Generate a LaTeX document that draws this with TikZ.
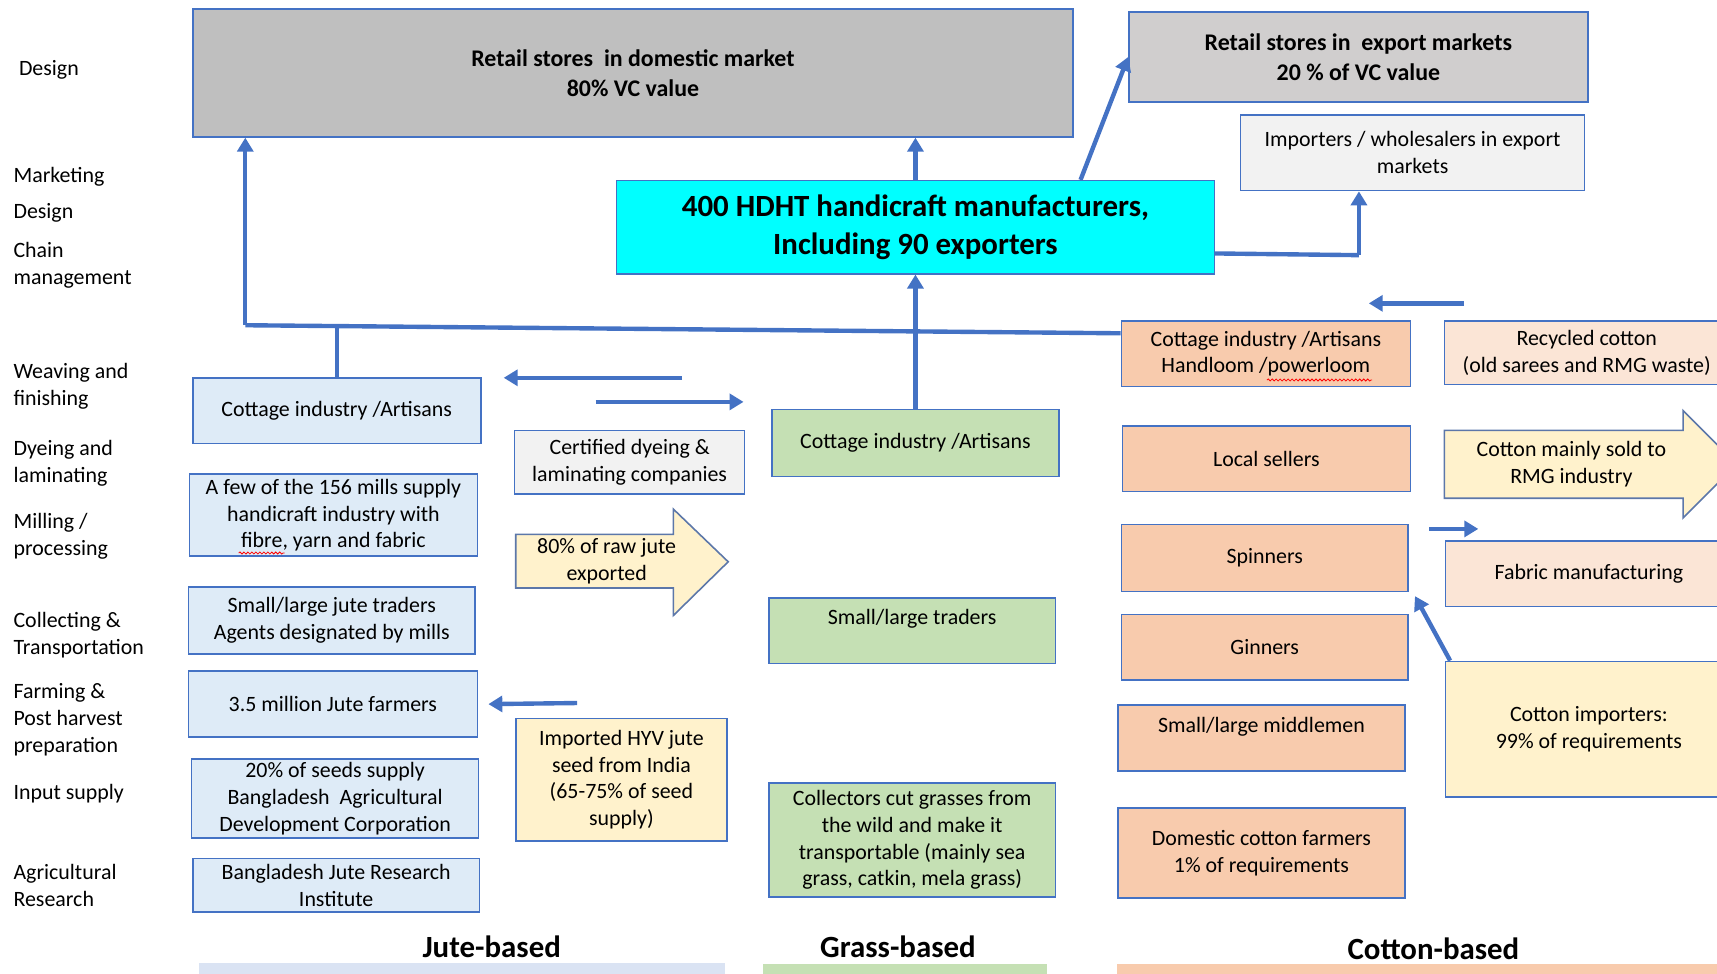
\documentclass[tikz,border=0pt]{standalone}
\usepackage{fontspec}
\setmainfont{Carlito}
\usepackage{xcolor}
\usetikzlibrary{positioning}
\usetikzlibrary{arrows.meta}
\usetikzlibrary{decorations.pathmorphing}

\definecolor{vcblue}{HTML}{4472C4}
\definecolor{domgrey}{HTML}{BFBFBF}
\definecolor{expgrey}{HTML}{D0CECE}
\definecolor{palegrey}{HTML}{F2F2F2}
\definecolor{hdhtcyan}{HTML}{00FFFF}
\definecolor{jutefill}{HTML}{DEEBF7}
\definecolor{grassfill}{HTML}{C5E0B4}
\definecolor{cottonfill}{HTML}{F8CBAD}
\definecolor{cottonpale}{HTML}{FBE5D6}
\definecolor{noteyellow}{HTML}{FFF2CC}
\definecolor{jutebar}{HTML}{DAE3F3}

\def\px{0.55pt}
\tikzset{
    wh/.style 2 args={minimum width=#1*\px, minimum height=#2*\px},
    box/.style={draw=vcblue, line width=0.8pt, rectangle, align=center, inner sep=0pt,
        font=\fontsize{11}{13.5}\selectfont},
    stage/.style={anchor=west, align=left, inner sep=0pt, font=\fontsize{11}{13.5}\selectfont},
    chain/.style={font=\bfseries\fontsize{15.5}{17}\selectfont, inner sep=0pt},
    flow/.style={draw=vcblue, line width=2.2pt},
    flowarrow/.style={flow, -{Triangle[length=7pt,width=8pt]}},
    bigarrow/.style={draw=vcblue!60!gray, line width=0.8pt, fill=noteyellow},
    spell/.style={draw=red, line width=0.4pt, decorate, decoration={snake, amplitude=0.5pt, segment length=2pt}}
}

\begin{document}
\begin{tikzpicture}[x=0.55pt,y=-0.55pt]
    \useasboundingbox (0,0) rectangle (1568,889);

    % stage labels
    \node[stage] (sdesign) at (17,64) {Design};
    \node[stage] (smarket) at (12,161) {Marketing};
    \node[stage] (sdesign2) at (12,194) {Design};
    \node[stage] (schain) at (12,242) {Chain\\management};
    \node[stage] (sweave) at (12,353) {Weaving and\\finishing};
    \node[stage] (sdye) at (12,423) {Dyeing and\\laminating};
    \node[stage] (smill) at (12,490) {Milling /\\processing};
    \node[stage] (scollect) at (12,580) {Collecting \&\\Transportation};
    \node[stage] (sfarm) at (12,657) {Farming \&\\Post harvest\\preparation};
    \node[stage] (sinput) at (12,725) {Input supply};
    \node[stage] (sresearch) at (12,809) {Agricultural\\Research};

    % markets and manufacturers
    \node[box, fill=domgrey, wh={804}{117}, font=\bfseries\fontsize{12}{15}\selectfont] (domret) at (578,66.5) {Retail stores~ in domestic market\\80\% VC value};
    \node[box, fill=expgrey, wh={419}{82}, font=\bfseries\fontsize{12}{15}\selectfont] (expret) at (1240.5,52) {Retail stores in~ export markets\\20 \% of VC value};
    \node[box, fill=palegrey, wh={314}{69}] (imp) at (1290,139.5) {Importers / wholesalers in export\\markets};
    \node[box, fill=hdhtcyan, wh={546}{85}, font=\bfseries\fontsize{15.5}{19.5}\selectfont] (hdht) at (836,207.5) {400 HDHT handicraft manufacturers,\\Including 90 exporters};

    % jute-based chain
    \node[box, fill=jutefill, wh={263}{60}] (jcot) at (307.5,375) {Cottage industry /Artisans};
    \node[box, fill=palegrey, wh={210}{58}] (dye) at (575,422) {Certified dyeing \&\\laminating companies};
    \node[box, fill=jutefill, wh={263}{75}] (mills) at (304.5,470.5) {A few of the 156 mills supply\\handicraft industry with\\fibre, yarn and fabric};
    \node[box, fill=jutefill, wh={262}{61}] (jtrad) at (303,566.5) {Small/large jute traders\\Agents designated by mills};
    \node[box, fill=jutefill, wh={264}{60}] (jfarm) at (304,643) {3.5 million Jute farmers};
    \node[box, fill=noteyellow, wh={193}{112}] (hyv) at (567.5,712) {Imported HYV jute\\seed from India\\(65-75\% of seed\\supply)};
    \node[box, fill=jutefill, wh={262}{72}] (seeds) at (306,729) {20\% of seeds supply\\Bangladesh~ Agricultural\\Development Corporation};
    \node[box, fill=jutefill, wh={262}{49}] (bjri) at (307,808.5) {Bangladesh Jute Research\\Institute};
    \draw[bigarrow] (471,488) -- (615,488) -- (615,465) -- (665,513) -- (615,562) -- (615,537) -- (471,537) -- cycle;
    \node[font=\fontsize{11}{13.5}\selectfont, align=center, inner sep=0pt] (rawjute) at (554,512.5) {80\% of raw jute\\exported};
    \draw[spell] (218,505) -- (260,505);

    % grass-based chain
    \node[box, fill=grassfill, wh={262}{61}] (gcot) at (836,404.5) {Cottage industry /Artisans};
    \node[box, fill=grassfill, wh={262}{60}] (gtrad) at (833,576) {Small/large traders\\ \mbox{}};
    \node[box, fill=grassfill, wh={262}{104}] (collect) at (833,767) {Collectors cut grasses from\\the wild and make it\\transportable (mainly sea\\grass, catkin, mela grass)};

    % cotton-based chain
    \node[box, fill=cottonfill, wh={264}{60}] (ccot) at (1156,323) {Cottage industry /Artisans\\Handloom /powerloom};
    \node[box, fill=cottonpale, wh={260}{58}] (recyc) at (1449,322) {Recycled cotton\\(old sarees and RMG waste)};
    \node[box, fill=cottonfill, wh={263}{60}] (locsell) at (1156.5,419) {Local sellers};
    \node[box, fill=cottonfill, wh={262}{61}] (spin) at (1155,509.5) {Spinners};
    \node[box, fill=cottonpale, wh={262}{60}] (fabric) at (1451,524) {Fabric manufacturing};
    \node[box, fill=cottonfill, wh={262}{60}] (ginn) at (1155,591) {Ginners};
    \node[box, fill=cottonfill, wh={262}{60}] (middle) at (1152,674) {Small/large middlemen\\ \mbox{}};
    \node[box, fill=noteyellow, wh={262}{124}] (cimp) at (1451,666) {Cotton importers:\\99\% of requirements};
    \node[box, fill=cottonfill, wh={262}{82}] (dfarm) at (1152,779) {Domestic cotton farmers\\1\% of requirements};
    \draw[bigarrow] (1319,393) -- (1537,393) -- (1537,375) -- (1586,424) -- (1537,473) -- (1537,455) -- (1319,455) -- cycle;
    \node[font=\fontsize{11}{13.5}\selectfont, align=center, inner sep=0pt] (rmg) at (1435,423.5) {Cotton mainly sold to\\RMG industry};
    \draw[spell] (1157,347) -- (1253,347);

    % flows
    \coordinate (jbend) at (224,297);
    \coordinate (ibend) at (1241,233);
    \draw[flow] (ccot.172) -- (jbend);
    \draw[flow] (jcot.north) -- (jcot.north |- jbend);
    \draw[flowarrow] (jbend) -- (jbend |- domret.south);
    \draw[flowarrow] (gcot.north) -- (hdht.south);
    \draw[flowarrow] (hdht.north) -- (domret.south -| hdht.north);
    \draw[flowarrow] (hdht.16) -- (expret.west);
    \draw[flow] (hdht.-5) -- (ibend);
    \draw[flowarrow] (ibend) -- (ibend |- imp.south);
    \draw[flowarrow] ([xshift=2.75pt]cimp.north west) -- ([shift={(3pt,-2pt)}]spin.south east);

    % free arrows
    \coordinate (ra1) at (1337,277); \coordinate (ra2) at (1250,277);
    \coordinate (dl1) at (623,345);  \coordinate (dl2) at (460,345);
    \coordinate (dr1) at (544,367);  \coordinate (dr2) at (679,367);
    \coordinate (fa1) at (1305,483); \coordinate (fa2) at (1350,483);
    \coordinate (hy1) at (527,642);  \coordinate (hy2) at (446,643);
    \draw[flowarrow] (ra1) -- (ra2);
    \draw[flowarrow] (dl1) -- (dl2);
    \draw[flowarrow] (dr1) -- (dr2);
    \draw[flowarrow] (fa1) -- (fa2);
    \draw[flowarrow] (hy1) -- (hy2);

    % chain titles
    \node[chain] (jute) at (449,865) {Jute-based};
    \node[chain] (grass) at (820,865) {Grass-based};
    \node[chain] (cotton) at (1309,866) {Cotton-based};
    \fill[jutebar] (182,879) rectangle (662,889);
    \fill[grassfill] (697,880) rectangle (956,889);
    \fill[cottonfill] (1020,880) rectangle (1568,889);
\end{tikzpicture}
\end{document}
